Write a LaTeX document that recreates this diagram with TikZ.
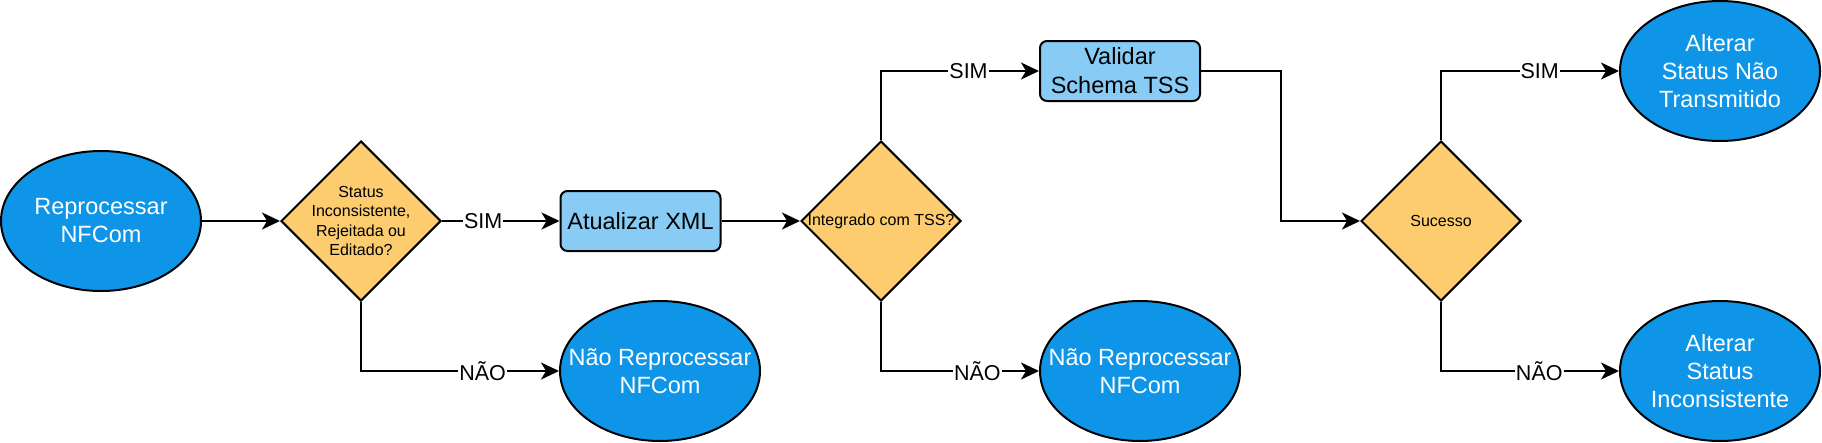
\documentclass[tikz,border=0pt]{standalone}
\usepackage{fontspec}
\setmainfont{Liberation Sans}
\usetikzlibrary{shapes.geometric,arrows.meta}
\definecolor{termblue}{HTML}{0E95E8}
\definecolor{procblue}{HTML}{88CCF5}
\definecolor{decyellow}{HTML}{FDCC6F}
\tikzset{
  term/.style={ellipse, draw=black, line width=2pt, fill=termblue, minimum width=200pt, minimum height=140pt, inner sep=0pt},
  termtext/.style={text=white, align=center, font=\fontsize{23.5}{28}\selectfont, inner sep=0pt},
  proc/.style={rectangle, rounded corners=7pt, draw=black, line width=2pt, fill=procblue, minimum width=160pt, minimum height=60pt, inner sep=0pt, align=center, font=\fontsize{23.5}{29}\selectfont},
  dec/.style={diamond, draw=black, line width=2pt, fill=decyellow, minimum width=160pt, minimum height=160pt, inner sep=0pt},
  dectext/.style={text=black, align=center, font=\fontsize{16}{19.3}\selectfont, inner sep=0pt},
  conn/.style={draw=black, line width=2pt, -{Stealth[length=18pt, width=17pt, inset=5pt]}},
  lbl/.style={fill=white, inner sep=1pt, font=\fontsize{21.5}{24}\selectfont}
}
\begin{document}
\begin{tikzpicture}[x=1pt, y=-1pt]
\useasboundingbox (0,0) rectangle (1822,442);
% nodes
\node[term, label={[termtext]center:{Reprocessar\\NFCom}}] (start) at (101,221) {};
\node[dec, label={[dectext]center:{Status\\Inconsistente,\\Rejeitada ou\\Editado?}}] (d1) at (361,221) {};
\node[proc] (upd) at (640.5,221) {Atualizar XML};
\node[term, label={[termtext]center:{Não Reprocessar\\NFCom}}] (nr1) at (660,371) {};
\node[dec, label={[dectext]center:{Integrado com TSS?}}] (d2) at (881,221) {};
\node[proc] (val) at (1120,71) {Validar\\Schema TSS};
\node[term, label={[termtext]center:{Não Reprocessar\\NFCom}}] (nr2) at (1140,371) {};
\node[dec, label={[dectext]center:{Sucesso}}] (d3) at (1441,221) {};
\node[term, label={[termtext]center:{Alterar\\Status Não\\Transmitido}}] (ant) at (1720,71) {};
\node[term, label={[termtext]center:{Alterar\\Status\\Inconsistente}}] (ai) at (1720,371) {};
\coordinate (bend) at (1280.5,71);
% connectors
\draw[conn] (start) -- (d1);
\draw[conn] (d1) -- node[lbl, pos=0.35] {SIM} (upd);
\draw[conn] (d1.south) |- node[lbl, pos=0.807] {NÃO} (nr1.west);
\draw[conn] (upd) -- (d2);
\draw[conn] (d2.north) |- node[lbl, pos=0.777] {SIM} (val.west);
\draw[conn] (d2.south) |- node[lbl, pos=0.805] {NÃO} (nr2.west);
\draw[conn] (val.east) -- (bend) |- (d3.west);
\draw[conn] (d3.north) |- node[lbl, pos=0.777] {SIM} (ant.west);
\draw[conn] (d3.south) |- node[lbl, pos=0.776] {NÃO} (ai.west);
\end{tikzpicture}
\end{document}
